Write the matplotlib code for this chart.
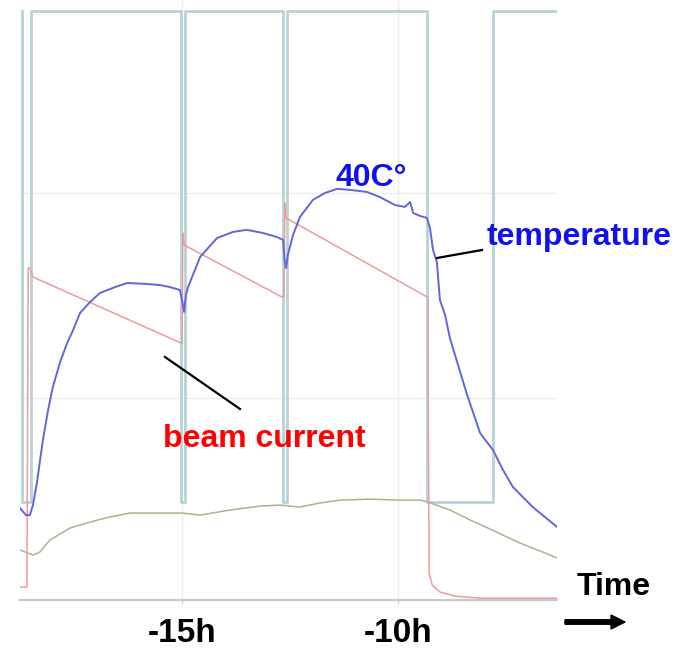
import matplotlib
matplotlib.use('Agg')
import matplotlib.pyplot as plt

plt.rcParams['font.family'] = ['Liberation Sans', 'DejaVu Sans']

# time axis in hours, signals in relative units (grid at 1 and 2)
temp_t = [-18.75, -18.61, -18.52, -18.45, -18.36, -18.22, -18.10, -17.99, -17.82, -17.66,
          -17.52, -17.36, -17.13, -16.90, -16.55, -16.27, -15.81, -15.51, -15.28, -15.05,
          -15.00, -14.95, -14.91, -14.86, -14.58, -14.19, -13.82, -13.50, -13.13, -12.80,
          -12.66, -12.62, -12.59, -12.55, -12.43, -12.27, -11.97, -11.69, -11.41, -11.11,
          -10.72, -10.42, -10.07, -9.84, -9.72, -9.65, -9.49, -9.33, -9.26, -9.19,
          -9.10, -9.03, -8.91, -8.80, -8.61, -8.40, -8.10, -7.80, -7.57, -7.34,
          -6.88, -6.60, -6.32]
temp_v = [0.463, 0.429, 0.429, 0.478, 0.585, 0.795, 0.941, 1.054, 1.176, 1.268,
          1.332, 1.415, 1.468, 1.512, 1.541, 1.561, 1.556, 1.551, 1.541, 1.527,
          1.478, 1.420, 1.502, 1.541, 1.688, 1.780, 1.810, 1.820, 1.805, 1.785,
          1.771, 1.663, 1.634, 1.698, 1.795, 1.883, 1.966, 2.000, 2.020, 2.015,
          2.005, 1.980, 1.941, 1.932, 1.956, 1.902, 1.888, 1.878, 1.829, 1.722,
          1.663, 1.478, 1.405, 1.293, 1.161, 1.015, 0.829, 0.746, 0.649, 0.566,
          0.468, 0.420, 0.371]

beam_t = [-18.75, -18.59, -18.56, -18.52, -18.45, -15.02, -15.00, -14.98, -14.95, -12.69,
          -12.64, -12.62, -12.59, -9.33, -9.31, -9.28, -9.21, -9.03, -8.68, -8.10, -6.32]
beam_v = [0.078, 0.078, 1.634, 1.634, 1.590, 1.268, 1.268, 1.805, 1.746, 1.493,
          1.493, 1.951, 1.878, 1.493, 1.493, 0.146, 0.088, 0.054, 0.034, 0.024, 0.024]

third_t = [-18.75, -18.45, -18.29, -18.06, -17.59, -17.13, -16.67, -16.20, -15.51, -15.00,
           -14.58, -13.89, -13.19, -12.73, -12.27, -11.81, -11.34, -10.65, -9.95, -9.49,
           -9.31, -8.80, -8.33, -7.87, -7.18, -6.71, -6.32]
third_v = [0.259, 0.234, 0.249, 0.307, 0.366, 0.395, 0.420, 0.439, 0.439, 0.439,
           0.429, 0.454, 0.473, 0.478, 0.468, 0.488, 0.502, 0.507, 0.502, 0.502,
           0.493, 0.454, 0.405, 0.361, 0.293, 0.254, 0.220]

state_t = [-18.70, -18.70, -18.50, -18.50, -15.02, -15.02, -14.93, -14.93, -12.66, -12.66,
           -12.57, -12.57, -9.33, -9.33, -7.80, -7.80, -6.32]
state_v = [2.888, 0.493, 0.493, 2.888, 2.888, 0.493, 0.493, 2.888, 2.888, 0.493,
           0.493, 2.888, 2.888, 0.493, 0.493, 2.888, 2.888]

tick_pos = [-15, -10]
tick_labels = ['-15h', '-10h']

W, H = 682, 651


def px(x, y):
    return x / W, 1 - y / H


fig = plt.figure(figsize=(W / 100, H / 100), dpi=100)
ax = fig.add_axes([20 / W, 1 - 600 / H, 537 / W, 600 / H])

ax.plot(state_t, state_v, color='#b6d4d4', linewidth=2.0, zorder=2)
ax.plot(third_t, third_v, color='#adb28e', linewidth=1.1, zorder=3)
ax.plot(beam_t, beam_v, color='#f09a9a', linewidth=1.1, zorder=4)
ax.plot(temp_t, temp_v, color='#6464dc', linewidth=1.4, zorder=5)

ax.set_xlim(-18.75, -6.32)
ax.set_ylim(0.015, 2.941)
ax.set_yticks([1, 2])
ax.set_xticks(tick_pos)
ax.set_xticklabels(tick_labels, fontsize=24, fontweight='bold')
ax.tick_params(axis='x', length=3, color='#c8c8c8', pad=10)
ax.tick_params(axis='y', length=0, labelleft=False)
ax.grid(True, color='#ededed', linewidth=1.0, zorder=0)
for side in ('top', 'right', 'left'):
    ax.spines[side].set_visible(False)
ax.spines['bottom'].set_color('#c8c8c8')
ax.spines['bottom'].set_linewidth(1.5)

fig.text(*px(335, 186), '40C°', color='#1010f0', fontsize=23, fontweight='bold', va='baseline')
fig.text(*px(487, 245), 'temperature', color='#1010f0', fontsize=23, fontweight='bold', va='baseline')
fig.text(*px(163, 447), 'beam current', color='#ff0000', fontsize=23, fontweight='bold', va='baseline')
fig.text(*px(577, 595), 'Time', color='black', fontsize=23, fontweight='bold', va='baseline')

fig.add_artist(plt.Line2D(*zip(px(437, 258), px(482, 250)), color='black', linewidth=1.6))
fig.add_artist(plt.Line2D(*zip(px(165, 357), px(240, 409)), color='black', linewidth=1.6))
fig.patches.append(matplotlib.patches.FancyArrow(
    *px(565, 622), 60 / W, 0, width=4.5 / H, head_width=14 / H, head_length=14 / W,
    length_includes_head=True, color='black', transform=fig.transFigure, figure=fig))

fig.savefig('out.png', dpi=100)
